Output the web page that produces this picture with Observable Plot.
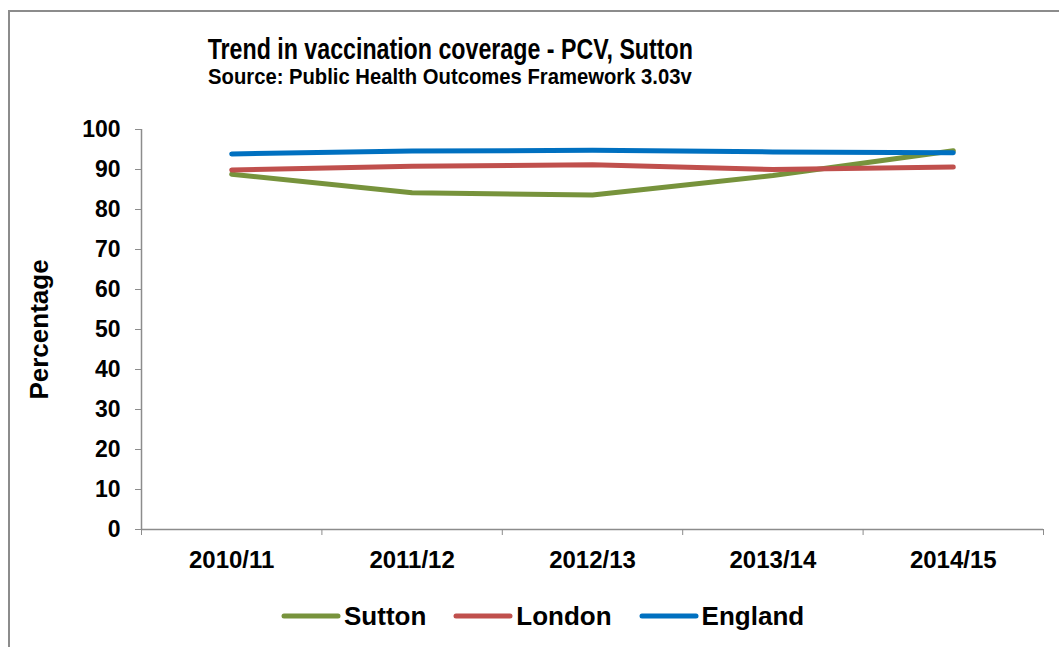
<!DOCTYPE html>
<html>
<head>
<meta charset="utf-8">
<script src="https://cdn.jsdelivr.net/npm/d3@7"></script>
<script src="https://cdn.jsdelivr.net/npm/@observablehq/plot@0.6"></script>
<style>
  html, body { margin: 0; padding: 0; background: #fff; }
  body { width: 1059px; height: 647px; overflow: hidden; position: relative;
         font-family: "Liberation Sans", Arial, sans-serif; font-weight: bold; color: #000; }
  #frame { position: absolute; left: 8px; top: 10px; width: 1100px; height: 700px;
           border-left: 2px solid #8c8c8c; border-top: 2px solid #8c8c8c; }
  .title { position: absolute; left: 0; width: 900px; text-align: center; white-space: nowrap; }
  .title span { display: inline-block; }
  #t1 { top: 32px; font-size: 29px; line-height: 34px; }
  #t1 span { transform: scaleX(0.8); }
  #t2 { top: 64px; font-size: 22px; line-height: 26px; }
  #t2 span { transform: scaleX(0.92); }
  #chart { position: absolute; left: 0; top: 0; }
  #legend { position: absolute; top: 601px; left: 281px; height: 30px; display: flex; align-items: center;
            font-size: 26px; white-space: nowrap; }
  .item { display: flex; align-items: center; margin-right: 27px; }
  .item svg { margin-right: 3px; }
</style>
</head>
<body>
<div id="frame"></div>
<div class="title" id="t1"><span>Trend in vaccination coverage - PCV, Sutton</span></div>
<div class="title" id="t2"><span>Source: Public Health Outcomes Framework 3.03v</span></div>
<div id="chart"></div>
<div id="legend"></div>
<script>
const years = ["2010/11", "2011/12", "2012/13", "2013/14", "2014/15"];
const seriesNames = ["Sutton", "London", "England"];
const sutton = [88.8, 84.2, 83.6, 88.5, 94.7];
const london = [89.9, 90.8, 91.2, 90.0, 90.6];
const england = [93.9, 94.6, 94.8, 94.4, 94.2];
const colors = ["#77933C", "#C0504D", "#0070C0"];
const yTicks = [0, 10, 20, 30, 40, 50, 60, 70, 80, 90, 100];

const seriesValues = [sutton, london, england];
const data = [];
seriesNames.forEach((s, si) => {
  years.forEach((yr, i) => data.push({series: s, i, year: yr, value: seriesValues[si][i]}));
});
const bounds = d3.range(-0.5, years.length, 1);
const centers = d3.range(years.length);

const fontFam = '"Liberation Sans", Arial, sans-serif';
const chart = Plot.plot({
  width: 1059,
  height: 580,
  marginLeft: 141,
  marginRight: 16,
  marginTop: 129,
  marginBottom: 51,
  style: {fontFamily: fontFam, fontWeight: "bold", color: "#000", background: "transparent"},
  x: {type: "linear", domain: [-0.5, years.length - 0.5]},
  y: {domain: [0, 100]},
  color: {domain: seriesNames, range: colors},
  marks: [
    Plot.ruleX([-0.5], {stroke: "#8c8c8c", strokeWidth: 1.5}),
    Plot.ruleY([0], {stroke: "#8c8c8c", strokeWidth: 1.5}),
    Plot.axisY({ticks: yTicks, tickSize: 6, tickPadding: 15, stroke: "#8c8c8c", strokeOpacity: 1,
                fontSize: 23, fill: "#000", label: null}),
    Plot.axisY({ticks: [], fontSize: 26, fill: "#000",
                label: "Percentage", labelAnchor: "center", labelOffset: 112, labelArrow: "none"}),
    Plot.axisX({ticks: bounds, tickFormat: () => "", tickSize: 6, stroke: "#8c8c8c", strokeOpacity: 1, label: null}),
    Plot.axisX({ticks: centers, tickFormat: i => years[i], tickSize: 0, tickPadding: 21,
                fontSize: 24, fill: "#000", label: null}),
    Plot.line(data, {x: "i", y: "value", z: "series", stroke: "series", strokeWidth: 5,
                     strokeLinecap: "round", strokeLinejoin: "round", curve: "linear"})
  ]
});
document.getElementById("chart").appendChild(chart);

const legend = document.getElementById("legend");
seriesNames.forEach((s, si) => {
  const item = document.createElement("div");
  item.className = "item";
  item.innerHTML = `<svg width="60" height="10"><line x1="3" y1="5" x2="57" y2="5" stroke="${colors[si]}" stroke-width="5" stroke-linecap="round"/></svg><span>${s}</span>`;
  legend.appendChild(item);
});
</script>
</body>
</html>
